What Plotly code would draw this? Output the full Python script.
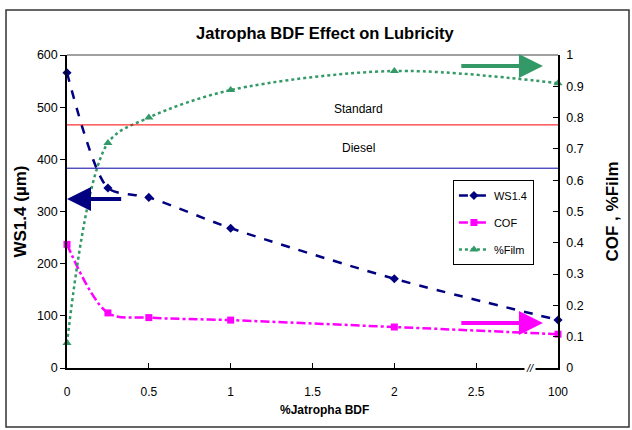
import plotly.graph_objects as go

# ---- data ----
bdf_pct = [0, 0.25, 0.5, 1, 2, 100]          # % Jatropha BDF
ws14 = [566, 345, 327, 268, 171, 92]          # WS1.4 (um)
cof = [0.395, 0.176, 0.161, 0.153, 0.131, 0.108]
film = [0.08, 0.719, 0.80, 0.888, 0.949, 0.91]
standard_ws = 466
diesel_ws = 383
x_tickvals = [0, 0.5, 1, 1.5, 2, 2.5, 3]
x_ticktext = ["0", "0.5", "1", "1.5", "2", "2.5", "100"]
BREAK_POS = 3  # 100% is drawn at this axis position (broken axis)

xpos = [v if v <= 2.5 else BREAK_POS for v in bdf_pct]

NAVY = "#000080"
MAG = "#FF00FF"
GREEN = "#339966"
FONT = "Liberation Sans, Arial, sans-serif"

fig = go.Figure()
fig.add_trace(go.Scatter(x=xpos, y=ws14, name="WS1.4", mode="lines+markers",
                         line=dict(color=NAVY, width=2.5, dash="dash", shape="spline", smoothing=0.7),
                         marker=dict(symbol="diamond", size=7, color=NAVY),
                         cliponaxis=False, legendgroup="a"))
fig.add_trace(go.Scatter(x=xpos, y=cof, name="COF", mode="lines+markers", yaxis="y2",
                         line=dict(color=MAG, width=2.5, dash="dashdot", shape="spline", smoothing=0.9),
                         marker=dict(symbol="square", size=7, color=MAG),
                         cliponaxis=False, legendgroup="b"))
fig.add_trace(go.Scatter(x=xpos, y=film, name="%Film", mode="lines+markers", yaxis="y2",
                         line=dict(color=GREEN, width=2.5, dash="dot", shape="spline", smoothing=0.9),
                         marker=dict(symbol="triangle-up", size=8, color=GREEN),
                         cliponaxis=False, legendgroup="c"))

shapes = [
    dict(type="line", xref="paper", x0=0, x1=1, yref="y", y0=standard_ws, y1=standard_ws,
         line=dict(color="#FF0000", width=1)),
    dict(type="line", xref="paper", x0=0, x1=1, yref="y", y0=diesel_ws, y1=diesel_ws,
         line=dict(color="#0000A0", width=1)),
    dict(type="line", xref="paper", x0=0, x1=1, yref="paper", y0=1, y1=1,
         line=dict(color="#808080", width=1.5)),
    dict(type="rect", xref="paper", yref="paper", x0=-0.1242, x1=1.1446, y0=-0.1885, y1=1.1438,
         line=dict(color="#333333", width=1.5), layer="below"),
]

annotations = [
    dict(text="Standard", x=1.78, y=standard_ws, xref="x", yref="y", yshift=16, showarrow=False,
         xanchor="center", yanchor="middle", font=dict(family=FONT, size=12, color="black")),
    dict(text="Diesel", x=1.78, y=(standard_ws + diesel_ws) / 2, xref="x", yref="y", yshift=-1,
         xanchor="center", yanchor="middle", showarrow=False,
         font=dict(family=FONT, size=12, color="black")),
    dict(text="<b>WS1.4 (µm)</b>", textangle=-90, x=-0.0957, y=0.5, xref="paper", yref="paper",
         xanchor="center", yanchor="middle", showarrow=False,
         font=dict(family=FONT, size=17, color="black")),
    dict(text="<b>COF , %Film</b>", textangle=-90, x=1.11, y=0.5, xref="paper", yref="paper",
         xanchor="center", yanchor="middle", showarrow=False,
         font=dict(family=FONT, size=17, color="black")),
    dict(text="<b>%Jatropha BDF</b>", x=0.525, y=-0.134, xref="paper", yref="paper",
         xanchor="center", yanchor="middle", showarrow=False,
         font=dict(family=FONT, size=12, color="black")),
    dict(text="<i>//</i>", x=2.83, y=0, xref="x", yref="y", showarrow=False, bgcolor="white",
         xanchor="center", yanchor="middle", font=dict(family=FONT, size=11, color="black")),
    # arrows
    dict(x=0.0, y=324, ax=0.34, ay=324, xref="x", yref="y", axref="x", ayref="y", text="",
         showarrow=True, arrowhead=2, arrowsize=1.2, arrowwidth=4, arrowcolor=NAVY),
    dict(x=2.908, y=0.965, ax=2.40, ay=0.965, xref="x", yref="y2", axref="x", ayref="y2", text="",
         showarrow=True, arrowhead=2, arrowsize=1.2, arrowwidth=4, arrowcolor=GREEN),
    dict(x=2.908, y=0.144, ax=2.40, ay=0.144, xref="x", yref="y2", axref="x", ayref="y2", text="",
         showarrow=True, arrowhead=2, arrowsize=1.2, arrowwidth=4, arrowcolor=MAG),
]

fig.update_layout(
    width=632, height=430,
    margin=dict(l=67, r=74, t=55, b=62),
    paper_bgcolor="white", plot_bgcolor="white",
    font=dict(family=FONT, size=12, color="black"),
    title=dict(text="<b>Jatropha BDF Effect on Lubricity</b>", x=0.514, xanchor="center",
               y=1 - 33 / 430, yanchor="middle", yref="container",
               font=dict(family=FONT, size=16.5, color="black")),
    xaxis=dict(range=[0, 3], tickvals=x_tickvals, ticktext=x_ticktext, showgrid=False, zeroline=False,
               showline=True, linecolor="black", linewidth=1.5, ticks="inside", ticklen=5,
               tickcolor="black", tickfont=dict(size=12), ticklabelstandoff=12),
    yaxis=dict(range=[0, 600], dtick=100, showgrid=False, zeroline=False, showline=True,
               linecolor="black", linewidth=1.5, ticks="outside", ticklen=5, tickcolor="black",
               tickfont=dict(size=12.5)),
    yaxis2=dict(range=[0, 1], dtick=0.1, overlaying="y", side="right", showgrid=False, zeroline=False,
                showline=True, linecolor="black", linewidth=1.5, ticks="inside", ticklen=5,
                tickcolor="black", tickfont=dict(size=12.5), ticklabelstandoff=4),
    legend=dict(x=0.786, y=0.6006, xanchor="left", yanchor="top", bordercolor="black", borderwidth=1,
                bgcolor="white", font=dict(family=FONT, size=11), tracegroupgap=8, itemwidth=30),
    shapes=shapes, annotations=annotations, showlegend=True,
)

fig.write_html("out.html", config={"displayModeBar": False},
               post_script="document.body.style.margin='0';")
